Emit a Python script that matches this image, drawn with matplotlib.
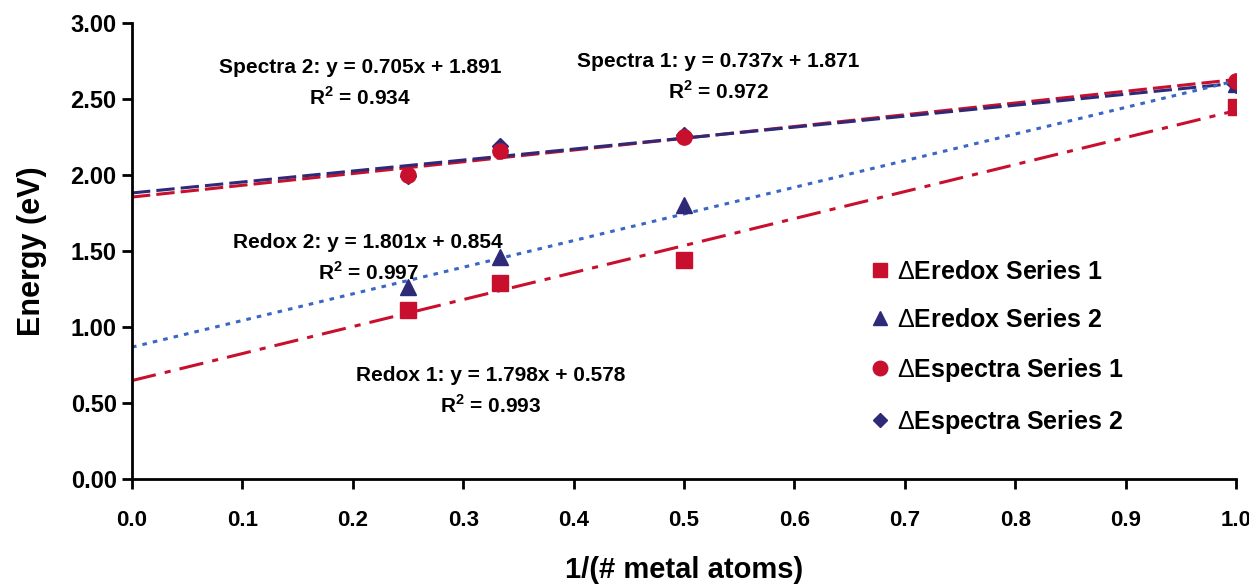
import numpy as np
import matplotlib
matplotlib.use('Agg')
import matplotlib.pyplot as plt

plt.rcParams['font.family'] = ['Liberation Sans', 'DejaVu Sans']
plt.rcParams['font.weight'] = 'bold'
plt.rcParams['mathtext.fontset'] = 'custom'
plt.rcParams['mathtext.rm'] = 'Liberation Sans:weight=normal'
plt.rcParams['mathtext.bf'] = 'Liberation Sans:bold'

# data
x_vals = [0.25, 0.333, 0.5, 1.0]
redox1 = [1.11, 1.29, 1.44, 2.45]
redox2 = [1.26, 1.46, 1.80, 2.60]
spectra1 = [2.00, 2.16, 2.25, 2.62]
spectra2 = [1.99, 2.19, 2.26, 2.59]

labels = [r'$\mathrm{\Delta}$Eredox Series 1', r'$\mathrm{\Delta}$Eredox Series 2',
          r'$\mathrm{\Delta}$Espectra Series 1', r'$\mathrm{\Delta}$Espectra Series 2']
eq_texts = ['Redox 1: y = 1.798x + 0.578\nR$^\\mathbf{2}$ = 0.993',
            'Redox 2: y = 1.801x + 0.854\nR$^\\mathbf{2}$ = 0.997',
            'Spectra 1: y = 0.737x + 1.871\nR$^\\mathbf{2}$ = 0.972',
            'Spectra 2: y = 0.705x + 1.891\nR$^\\mathbf{2}$ = 0.934']

red = '#C8102E'
navy = '#2E2A78'
blue = '#3A66C4'

fig = plt.figure(figsize=(12.49, 5.86), dpi=100)
ax = fig.add_axes([0.1057, 0.1826, 0.8839, 0.7782])

xs = np.array(x_vals)
xl = np.array([0.0, 1.0])

# trend lines (least squares on the points)
def trend(y):
    m, b = np.polyfit(xs, np.array(y), 1)
    return m * xl + b

ax.plot(xl, trend(spectra1), color=red, lw=2.2, ls=(0, (6, 2)), zorder=2)
ax.plot(xl, trend(spectra2), color=navy, lw=2.2, ls=(0, (6, 2)), zorder=2)
ax.plot(xl, trend(redox1), color=red, lw=2.2, ls=(0, (8, 3, 2, 3)), zorder=2)
ax.plot(xl, trend(redox2), color=blue, lw=2.2, ls=(0, (1.5, 2)), zorder=2)

ax.plot(xs, redox2, '^', color=navy, ms=11, ls='none', label=labels[1], zorder=3)
ax.plot(xs, redox1, 's', color=red, ms=11, ls='none', label=labels[0], zorder=3)
ax.plot(xs, spectra2, 'D', color=navy, ms=8, ls='none', label=labels[3], zorder=3)
ax.plot(xs, spectra1, 'o', color=red, ms=11, ls='none', label=labels[2], zorder=3)

# equation labels
pos = [(0.325, 0.579), (0.214, 1.454), (0.531, 2.64), (0.2065, 2.60)]
for (tx, ty), txt in zip(pos, eq_texts):
    ax.text(tx, ty, txt, ha='center', va='center', fontsize=15,
            fontweight='bold', linespacing=1.5)

ax.set_xlim(0, 1.0)
ax.set_ylim(0, 3.0)
ax.set_xticks(np.arange(0, 1.01, 0.1))
ax.set_yticks(np.arange(0, 3.01, 0.5))
ax.xaxis.set_major_formatter(matplotlib.ticker.FormatStrFormatter('%.1f'))
ax.yaxis.set_major_formatter(matplotlib.ticker.FormatStrFormatter('%.2f'))

for s in ['top', 'right']:
    ax.spines[s].set_visible(False)
for s in ['left', 'bottom']:
    ax.spines[s].set_linewidth(2)
ax.tick_params(axis='both', direction='out', width=2, length=7)
ax.tick_params(axis='x', pad=15, labelsize=16)
ax.tick_params(axis='y', pad=4, labelsize=17)
for t in ax.get_xticklabels() + ax.get_yticklabels():
    t.set_fontweight('bold')

ax.set_xlabel('1/(# metal atoms)', fontsize=21, fontweight='bold', labelpad=18)
ax.set_ylabel('Energy (eV)', fontsize=22, fontweight='bold', labelpad=17)

# legend in the same order as the reference
h, l = ax.get_legend_handles_labels()
order = [1, 0, 3, 2]
ax.legend([h[i] for i in order], [l[i] for i in order], loc='center left',
          bbox_to_anchor=(0.648, 0.287), frameon=False,
          prop={'size': 18, 'weight': 'bold'}, handletextpad=0.3,
          labelspacing=0.96, handlelength=0.8, markerscale=0.95)

fig.savefig('out.png', dpi=100)
